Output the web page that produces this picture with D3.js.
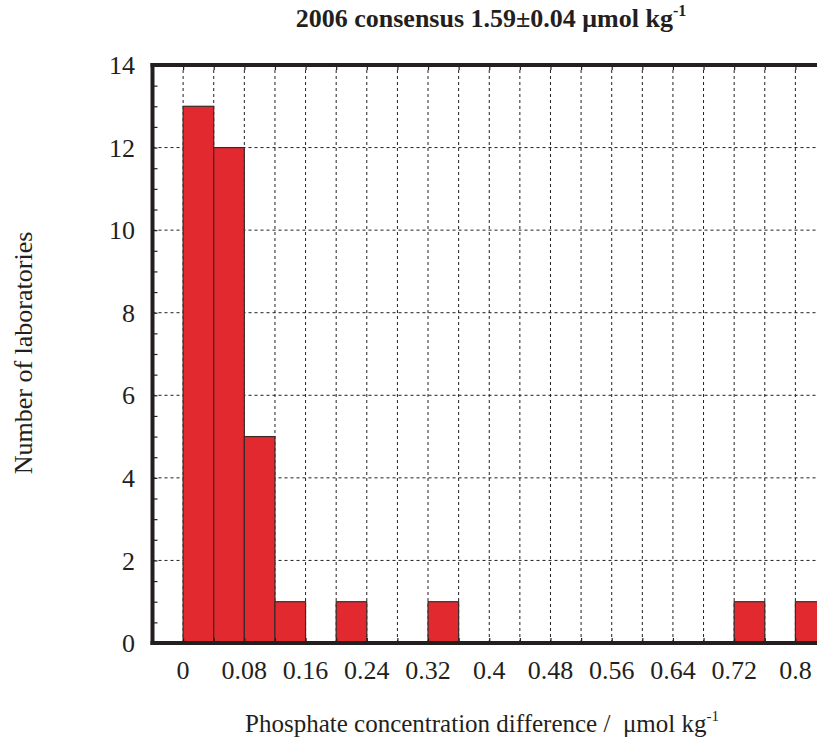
<!DOCTYPE html>
<html>
<head>
<meta charset="utf-8">
<script src="https://cdn.jsdelivr.net/npm/d3@7"></script>
<style>
  html, body { margin: 0; padding: 0; background: #fff; }
  svg { display: block; }
  text { font-family: "Liberation Serif", "Times New Roman", serif; fill: #231f20; white-space: pre; }
</style>
</head>
<body>
<svg id="chart" width="817" height="745"></svg>
<script>
// Histogram bins (left edge, µmol kg-1) and counts
const binStarts = [0.00, 0.04, 0.08, 0.12, 0.16, 0.20, 0.24, 0.28, 0.32, 0.36, 0.40,
                   0.44, 0.48, 0.52, 0.56, 0.60, 0.64, 0.68, 0.72, 0.76, 0.80];
const counts    = [13, 12, 5, 1, 0, 1, 0, 0, 1, 0, 0,
                   0, 0, 0, 0, 0, 0, 0, 1, 0, 1];
const binWidth = 0.04;
const xTickLabels = [0, 0.08, 0.16, 0.24, 0.32, 0.4, 0.48, 0.56, 0.64, 0.72, 0.8];
const yTickLabels = [0, 2, 4, 6, 8, 10, 12, 14];
const gridX = [0, 0.04, 0.08, 0.12, 0.16, 0.20, 0.24, 0.28, 0.32, 0.36, 0.40,
               0.44, 0.48, 0.52, 0.56, 0.60, 0.64, 0.68, 0.72, 0.76, 0.80];
const gridY = [2, 4, 6, 8, 10, 12];

const svg = d3.select("#chart");
const x = d3.scaleLinear().domain([-0.04, 0.84]).range([152.5, 826]);
const y = d3.scaleLinear().domain([0, 14]).range([643, 65]);
const ink = "#231f20";
const fs = 26;

// Grid
const grid = svg.append("g");
grid.selectAll(".gx").data(gridX).join("line")
  .attr("x1", d => x(d)).attr("x2", d => x(d))
  .attr("y1", y(0)).attr("y2", y(14))
  .attr("stroke", ink).attr("stroke-width", 1).attr("stroke-dasharray", "3,3");
grid.selectAll(".gy").data(gridY).join("line")
  .attr("x1", x(-0.04)).attr("x2", x(0.84))
  .attr("y1", d => y(d)).attr("y2", d => y(d))
  .attr("stroke", ink).attr("stroke-width", 1).attr("stroke-dasharray", "3,3");

// Bars
const bins = binStarts.map((b, i) => ({ x0: b, n: counts[i] })).filter(d => d.n > 0);
svg.append("g").selectAll("rect").data(bins).join("rect")
  .attr("x", d => x(d.x0))
  .attr("y", d => y(d.n))
  .attr("width", d => x(d.x0 + binWidth) - x(d.x0))
  .attr("height", d => y(0) - y(d.n))
  .attr("fill", "#e1292f")
  .attr("stroke", "#3a2a2a")
  .attr("stroke-width", 1.2);

// Y axis (inward ticks, minor every 0.5)
const yAxis = d3.axisRight(y).tickValues(d3.range(0, 14.01, 0.5)).tickSize(5).tickFormat("");
const gy = svg.append("g").attr("transform", `translate(${x(-0.04)},0)`).call(yAxis);
gy.select(".domain").remove();
gy.selectAll(".tick line").attr("stroke", ink).attr("stroke-width", 1.2);

svg.append("g").selectAll("text").data(yTickLabels).join("text")
  .attr("x", 135).attr("y", d => y(d)).attr("dy", "0.35em")
  .attr("text-anchor", "end").attr("font-size", fs).text(d => d);

// X axis ticks (bottom upward, top downward)
const xb = d3.axisTop(x).tickValues(gridX).tickSize(5).tickFormat("");
const gxb = svg.append("g").attr("transform", `translate(0,${y(0)})`).call(xb);
gxb.select(".domain").remove();
gxb.selectAll(".tick line").attr("stroke", ink).attr("stroke-width", 1.2);
const xt = d3.axisBottom(x).tickValues(gridX).tickSize(5).tickFormat("");
const gxt = svg.append("g").attr("transform", `translate(0,${y(14)})`).call(xt);
gxt.select(".domain").remove();
gxt.selectAll(".tick line").attr("stroke", ink).attr("stroke-width", 1.2);

svg.append("g").selectAll("text").data(xTickLabels).join("text")
  .attr("x", d => x(d)).attr("y", 679)
  .attr("text-anchor", "middle").attr("font-size", fs).text(d => d);

// Frame
svg.append("line").attr("x1", x(-0.04)).attr("x2", x(-0.04)).attr("y1", y(14) - 2).attr("y2", y(0) + 2)
  .attr("stroke", ink).attr("stroke-width", 4);
svg.append("line").attr("x1", x(-0.04) - 2).attr("x2", x(0.84)).attr("y1", y(0)).attr("y2", y(0))
  .attr("stroke", ink).attr("stroke-width", 4);
svg.append("line").attr("x1", x(-0.04) - 2).attr("x2", x(0.84)).attr("y1", y(14)).attr("y2", y(14))
  .attr("stroke", ink).attr("stroke-width", 4);

// Title
const title = svg.append("text").attr("x", 491).attr("y", 27)
  .attr("text-anchor", "middle").attr("font-size", fs).attr("font-weight", "bold");
title.append("tspan").text("2006 consensus 1.59±0.04 μmol kg");
title.append("tspan").attr("font-size", 16).attr("dy", -11).text("-1");

// Y label
svg.append("text").attr("transform", `translate(32,353) rotate(-90)`)
  .attr("text-anchor", "middle").attr("font-size", fs).text("Number of laboratories");

// X label
const xl = svg.append("text").attr("x", 482).attr("y", 732)
  .attr("text-anchor", "middle").attr("font-size", 25);
xl.append("tspan").text("Phosphate concentration difference /  μmol kg");
xl.append("tspan").attr("font-size", 15).attr("dy", -11).text("-1");
</script>
</body>
</html>
